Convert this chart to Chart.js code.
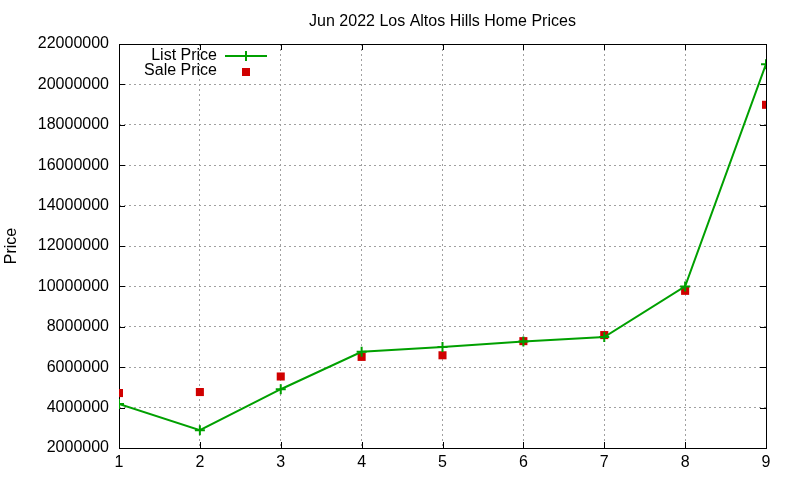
<!DOCTYPE html>
<html>
<head>
<meta charset="utf-8">
<script src="https://cdn.jsdelivr.net/npm/chart.js@4"></script>
<style>
  html, body { margin: 0; padding: 0; background: #ffffff; }
  #wrap { width: 800px; height: 480px; }
</style>
</head>
<body>
<div id="wrap"><canvas id="priceChart" width="800" height="480"></canvas></div>
<script>
const homeIndex = [1, 2, 3, 4, 5, 6, 7, 8, 9];
const listPrice = [4180000, 2880000, 4910000, 6760000, 7000000, 7270000, 7490000, 10000000, 21000000];
const salePrice = [4720000, 4770000, 5540000, 6510000, 6590000, 7290000, 7590000, 9780000, 18990000];
const yTicks = [2000000, 4000000, 6000000, 8000000, 10000000, 12000000, 14000000, 16000000, 18000000, 20000000, 22000000];

const fontFamily = "'Liberation Sans', Arial, sans-serif";
const green = "#00a000";
const red = "#d00000";

// gnuplot style frame with inward ticks and a key drawn left of its samples
const framePlugin = {
  id: "frame",
  afterLayout(chart) {
    // center the title over the plot area, not the whole canvas
    const t = chart.titleBlock;
    if (t) {
      t.left = chart.chartArea.left;
      t.right = chart.chartArea.right;
      t.width = t.right - t.left;
    }
  },
  beforeDatasetsDraw(chart) {
    const { ctx, chartArea: a, scales } = chart;
    ctx.save();
    ctx.strokeStyle = "#000";
    ctx.lineWidth = 1;
    ctx.strokeRect(a.left + 0.5, a.top + 0.5, a.right - a.left, a.bottom - a.top);
    ctx.beginPath();
    yTicks.forEach(v => {
      const y = Math.round(scales.y.getPixelForValue(v)) + 0.5;
      ctx.moveTo(a.left, y); ctx.lineTo(a.left + 6, y);
      ctx.moveTo(a.right, y); ctx.lineTo(a.right - 6, y);
    });
    homeIndex.forEach(v => {
      const x = Math.round(scales.x.getPixelForValue(v)) + 0.5;
      ctx.moveTo(x, a.bottom); ctx.lineTo(x, a.bottom - 6);
      ctx.moveTo(x, a.top); ctx.lineTo(x, a.top + 6);
    });
    ctx.stroke();
    ctx.restore();
  },
  afterDraw(chart) {
    const { ctx } = chart;
    ctx.save();
    ctx.font = "16px " + fontFamily;
    ctx.fillStyle = "#000";
    ctx.textAlign = "right";
    ctx.textBaseline = "middle";
    ctx.fillText(chart.data.datasets[0].label, 217, 56);
    ctx.fillText(chart.data.datasets[1].label, 217, 71);
    ctx.strokeStyle = green;
    ctx.lineWidth = 2;
    ctx.beginPath();
    ctx.moveTo(225, 56); ctx.lineTo(267, 56);
    ctx.moveTo(246, 51); ctx.lineTo(246, 61);
    ctx.stroke();
    ctx.fillStyle = red;
    ctx.fillRect(242, 68, 8, 8);
    ctx.restore();
  }
};

new Chart(document.getElementById("priceChart"), {
  type: "line",
  data: {
    datasets: [
      {
        label: "List Price",
        data: homeIndex.map((x, i) => ({ x: x, y: listPrice[i] })),
        borderColor: green,
        backgroundColor: green,
        borderWidth: 2,
        pointStyle: "cross",
        pointRadius: 5,
        pointBorderWidth: 2,
        tension: 0,
        fill: false
      },
      {
        label: "Sale Price",
        data: homeIndex.map((x, i) => ({ x: x, y: salePrice[i] })),
        showLine: false,
        borderColor: red,
        backgroundColor: red,
        pointStyle: "rect",
        pointRadius: 5.7,
        pointBorderWidth: 0
      }
    ]
  },
  options: {
    responsive: false,
    animation: false,
    layout: { padding: { top: 0, right: 34, bottom: 0, left: 0 } },
    plugins: {
      legend: { display: false },
      tooltip: { enabled: false },
      title: {
        display: true,
        text: "Jun 2022 Los Altos Hills Home Prices",
        color: "#000",
        font: { family: fontFamily, size: 16, weight: "normal" },
        padding: { top: 12.4, bottom: 12.4 }
      }
    },
    scales: {
      x: {
        type: "linear",
        min: 1,
        max: 9,
        afterFit(scale) { scale.height = 32; },
        afterBuildTicks(scale) { scale.ticks = homeIndex.map(v => ({ value: v })); },
        grid: {
          color: "#a0a0a0",
          lineWidth: 1,
          drawTicks: false
        },
        border: { display: false, dash: [2, 3] },
        ticks: {
          color: "#000",
          padding: 5,
          maxRotation: 0,
          font: { family: fontFamily, size: 16 },
          callback: v => String(v)
        }
      },
      y: {
        min: 2000000,
        max: 22000000,
        afterFit(scale) { scale.width = 119; },
        afterBuildTicks(scale) { scale.ticks = yTicks.map(v => ({ value: v })); },
        grid: {
          color: "#a0a0a0",
          lineWidth: 1,
          drawTicks: false
        },
        border: { display: false, dash: [2, 3] },
        ticks: {
          color: "#000",
          padding: 10,
          font: { family: fontFamily, size: 16 },
          callback: v => String(v)
        },
        title: {
          display: true,
          text: "Price",
          color: "#000",
          font: { family: fontFamily, size: 16 },
          padding: { top: 2.4, bottom: 0 }
        }
      }
    }
  },
  plugins: [framePlugin]
});
</script>
</body>
</html>
